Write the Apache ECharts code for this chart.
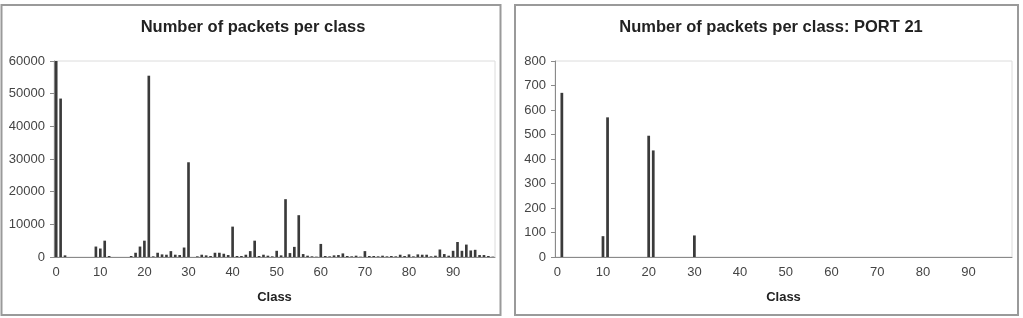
<!DOCTYPE html>
<html>
<head>
<meta charset="utf-8">
<script src="https://cdn.jsdelivr.net/npm/echarts@6/dist/echarts.min.js"></script>
<style>
  html, body { margin: 0; padding: 0; background: #fff; }
  #chart { width: 1023px; height: 318px; }
</style>
</head>
<body>
<div id="chart"></div>
<script>
// class ids 0..99
const classes = Array.from({ length: 100 }, (_, i) => String(i))

// packets per class, all ports
const allPackets = [
  60000, 48500, 500, 0, 0, 0, 0, 0, 0, 3200,
  2600, 5000, 300, 0, 0, 0, 0, 300, 1300, 3200,
  5000, 55500, 200, 1300, 800, 700, 1800, 700, 600, 2900,
  29000, 0, 200, 700, 500, 300, 1300, 1300, 1000, 600,
  9300, 300, 300, 700, 1800, 5000, 300, 700, 400, 200,
  1900, 500, 17700, 1200, 3100, 12800, 900, 400, 200, 100,
  4000, 300, 200, 500, 600, 1100, 300, 200, 400, 100,
  1800, 300, 300, 200, 400, 200, 300, 200, 700, 300,
  800, 200, 800, 700, 700, 200, 400, 2300, 900, 400,
  1900, 4600, 1900, 3800, 2000, 2200, 600, 600, 300, 100
]

// packets per class on port 21 (only non-zero classes listed)
const port21Classes = [1, 10, 11, 20, 21, 30]
const port21Values = [670, 85, 570, 495, 435, 88]

const leftTicks = { max: 60000, interval: 10000 }
const rightTicks = { max: 800, interval: 100 }

const port21Packets = classes.map(() => 0)
port21Classes.forEach((c, i) => { port21Packets[c] = port21Values[i] })

const font = 'Liberation Sans, Arial, sans-serif'
const colors = {
  bar: '#3a3a3a',
  axis: '#8a8a8a',
  frame: '#dcdcdc',
  text: '#444',
  title: '#222',
  box: '#9a9a9a'
}

const makeX = (gridIndex) => ({
  type: 'category',
  gridIndex,
  data: classes,
  boundaryGap: true,
  name: 'Class',
  nameLocation: 'middle',
  nameGap: 34,
  nameTextStyle: { fontFamily: font, fontSize: 13, fontWeight: 'bold', color: colors.title },
  axisLine: { lineStyle: { color: colors.axis, width: 1 } },
  axisTick: { interval: 4, length: 4, lineStyle: { color: colors.axis } },
  axisLabel: { interval: 9, margin: 9, fontFamily: font, fontSize: 13, color: colors.text },
  splitLine: { show: false }
})

const makeY = (gridIndex, ticks) => ({
  type: 'value',
  gridIndex,
  min: 0,
  max: ticks.max,
  interval: ticks.interval,
  axisLine: { show: true, lineStyle: { color: colors.axis, width: 1 } },
  axisTick: { show: true, length: 4, lineStyle: { color: colors.axis } },
  axisLabel: { margin: 9, fontFamily: font, fontSize: 13, color: colors.text, formatter: (v) => String(v) },
  splitLine: { show: false }
})

const barSeries = (index, data) => ({
  type: 'bar',
  xAxisIndex: index,
  yAxisIndex: index,
  data,
  barWidth: '60%',
  itemStyle: { color: colors.bar },
  animation: false
})

const chart = echarts.init(document.getElementById('chart'), null, { renderer: 'canvas' })

chart.setOption({
  backgroundColor: '#fff',
  animation: false,
  title: [
    {
      text: 'Number of packets per class',
      left: 248, top: 14, textAlign: 'center',
      textStyle: { fontFamily: font, fontSize: 16.5, fontWeight: 'bold', color: colors.title }
    },
    {
      text: 'Number of packets per class: PORT 21',
      left: 766, top: 14, textAlign: 'center',
      textStyle: { fontFamily: font, fontSize: 16.5, fontWeight: 'bold', color: colors.title }
    }
  ],
  graphic: [
    { type: 'rect', shape: { x: 1.5, y: 5, width: 499, height: 310 }, style: { fill: null, stroke: colors.box, lineWidth: 2 }, silent: true },
    { type: 'rect', shape: { x: 515, y: 5, width: 503, height: 310 }, style: { fill: null, stroke: colors.box, lineWidth: 2 }, silent: true }
  ],
  grid: [
    { left: 54, top: 61, width: 441, height: 196, show: true, borderColor: colors.frame, borderWidth: 1 },
    { left: 555, top: 61, width: 457, height: 196, show: true, borderColor: colors.frame, borderWidth: 1 }
  ],
  xAxis: [makeX(0), makeX(1)],
  yAxis: [makeY(0, leftTicks), makeY(1, rightTicks)],
  series: [barSeries(0, allPackets), barSeries(1, port21Packets)]
})
</script>
</body>
</html>
